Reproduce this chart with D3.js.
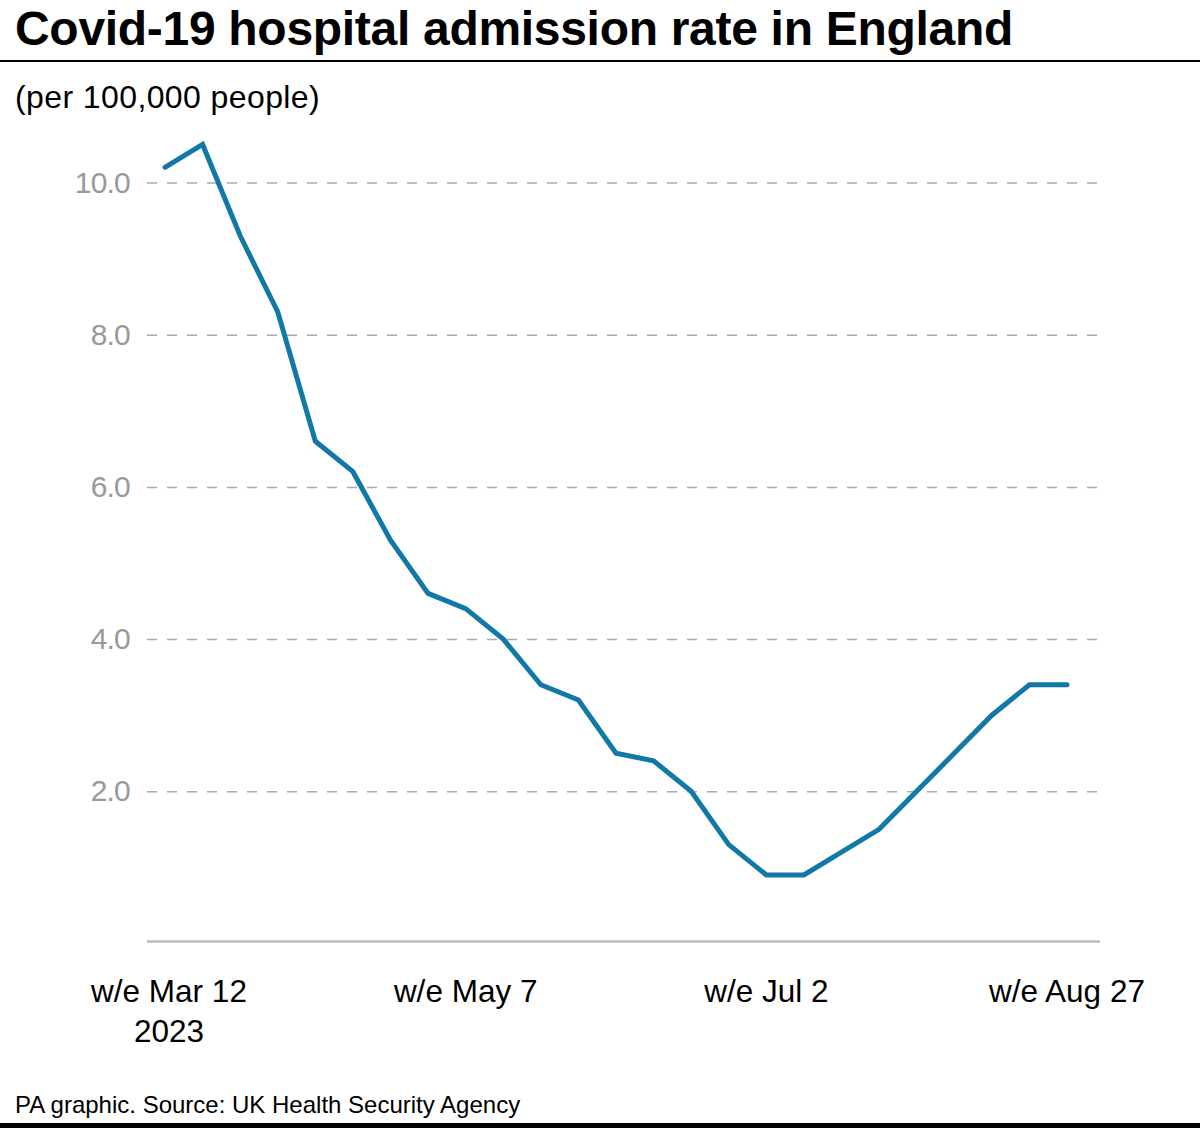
<!DOCTYPE html>
<html>
<head>
<meta charset="utf-8">
<script src="https://cdn.jsdelivr.net/npm/d3@7"></script>
<style>
  html, body { margin: 0; padding: 0; background: #fff; }
  svg { display: block; font-family: "Liberation Sans", Arial, sans-serif; }
</style>
</head>
<body>
<svg id="chart" width="1200" height="1128"></svg>
<script>
const weeks = ["Mar 12","Mar 19","Mar 26","Apr 2","Apr 9","Apr 16","Apr 23","Apr 30",
  "May 7","May 14","May 21","May 28","Jun 4","Jun 11","Jun 18","Jun 25",
  "Jul 2","Jul 9","Jul 16","Jul 23","Jul 30","Aug 6","Aug 13","Aug 20","Aug 27"];
const rates = [10.2, 10.5, 9.3, 8.3, 6.6, 6.2, 5.3, 4.6, 4.4, 4.0, 3.4, 3.2,
  2.5, 2.4, 2.0, 1.3, 0.9, 0.9, 1.2, 1.5, 2.0, 2.5, 3.0, 3.4, 3.4];
const yTicks = [2, 4, 6, 8, 10];
const xTickWeeks = ["Mar 12", "May 7", "Jul 2", "Aug 27"];
const xTickLabels = [["w/e Mar 12", "2023"], ["w/e May 7"], ["w/e Jul 2"], ["w/e Aug 27"]];
const title = "Covid-19 hospital admission rate in England";
const subtitle = "(per 100,000 people)";
const footer = "PA graphic. Source: UK Health Security Agency";

const svg = d3.select("#chart");
const plotLeft = 147, plotRight = 1100;

const x = d3.scalePoint().domain(weeks).range([165, 1067]);
const y = d3.scaleLinear().domain([0, 10]).range([943.5, 182.5]);

// Title
svg.append("text").attr("x", 15).attr("y", 45)
  .attr("font-size", 48).attr("font-weight", "bold").attr("fill", "#000")
  .attr("letter-spacing", "-0.3").text(title);
svg.append("rect").attr("x", 0).attr("y", 60).attr("width", 1200).attr("height", 2).attr("fill", "#000");

svg.append("text").attr("x", 15).attr("y", 108)
  .attr("font-size", 32).attr("fill", "#000").attr("letter-spacing", "0.4").text(subtitle);

// Grid
const yAxis = d3.axisLeft(y).tickValues(yTicks).tickFormat(d3.format(".1f"))
  .tickSize(-(plotRight - plotLeft)).tickPadding(17);
const gy = svg.append("g").attr("transform", `translate(${plotLeft},0)`).call(yAxis);
gy.select(".domain").remove();
gy.selectAll(".tick line").attr("stroke", "#aaa").attr("stroke-width", 1.5)
  .attr("stroke-dasharray", "10,10");
gy.selectAll(".tick text").attr("fill", "#999").attr("font-size", 30)
  .attr("letter-spacing", "-0.8").attr("font-family", "Liberation Sans, Arial, sans-serif");

// Baseline
svg.append("line").attr("x1", plotLeft).attr("x2", plotRight)
  .attr("y1", y(0) - 2).attr("y2", y(0) - 2).attr("stroke", "#bbb").attr("stroke-width", 2.5);

// X labels
const gx = svg.append("g");
xTickWeeks.forEach((w, i) => {
  const cx = x(w) + (i === 0 ? 4 : 0);
  const t = gx.append("text").attr("x", cx).attr("y", 1002)
    .attr("text-anchor", "middle").attr("font-size", 31.5).attr("fill", "#000")
    .attr("letter-spacing", "0");
  xTickLabels[i].forEach((s, j) => {
    t.append("tspan").attr("x", cx).attr("dy", j === 0 ? 0 : 40).text(s);
  });
});

// Line
const line = d3.line().x((d, i) => x(weeks[i])).y(d => y(d));
svg.append("path").datum(rates).attr("d", line)
  .attr("fill", "none").attr("stroke", "#1278a8").attr("stroke-width", 5)
  .attr("stroke-linejoin", "miter").attr("stroke-linecap", "round");

// Footer
svg.append("text").attr("x", 15).attr("y", 1113)
  .attr("font-size", 24).attr("fill", "#000").attr("letter-spacing", "0").text(footer);
svg.append("rect").attr("x", 0).attr("y", 1123).attr("width", 1200).attr("height", 5).attr("fill", "#000");
</script>
</body>
</html>
